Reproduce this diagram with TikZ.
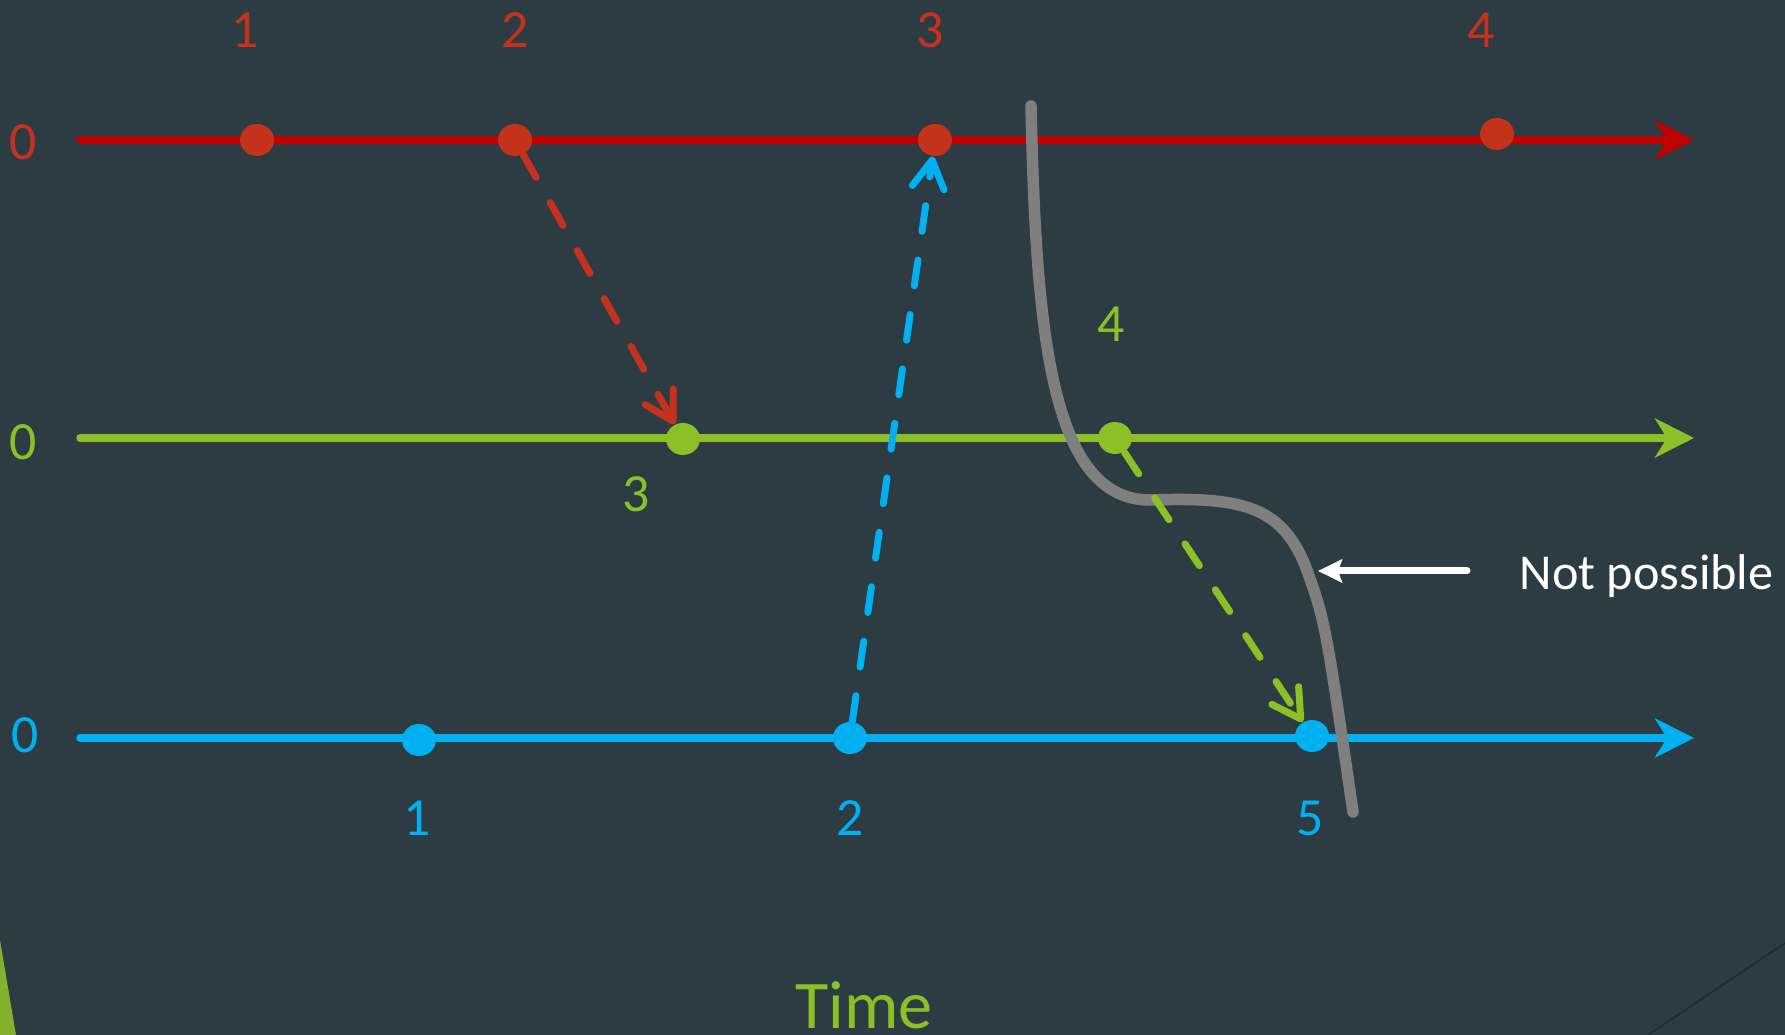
\documentclass[tikz,border=0pt]{standalone}
\usepackage{fontspec}
\setmainfont{Carlito}
\usepackage{xcolor,tikz}
\usetikzlibrary{arrows.meta,shapes.geometric}
\definecolor{slate}{HTML}{2D3C43}
\definecolor{redline}{HTML}{C00000}
\definecolor{redev}{HTML}{C4321C}
\definecolor{grnev}{HTML}{8DC026}
\definecolor{leaf}{HTML}{84B12C}
\definecolor{bluev}{HTML}{00B0F0}
\definecolor{wallgray}{HTML}{7F7F7F}
\definecolor{edgeline}{HTML}{1E2A2F}
\tikzset{
  axis/.style={line width=0.75mm,line cap=round,-{Stealth[length=3.9mm,width=3.9mm,inset=1.2mm]}},
  evdot/.style={ellipse,inner sep=0pt,minimum width=3.4mm,minimum height=3.2mm},
  msg/.style={line width=0.7mm,line cap=round,dash pattern=on 2.6mm off 2.9mm,
    -{Straight Barb[length=2.8mm,width=3.2mm,round]}},
  tick/.style={font=\fontsize{15.3}{18}\selectfont,inner sep=0pt},
}

\begin{document}
\begin{tikzpicture}[x=1mm,y=-1mm]
\fill[slate] (0,0) rectangle (178.5,103.5);
\useasboundingbox (0,0) rectangle (178.5,103.5);
% corner decoration
\fill[leaf] (0,94) -- (1.6,103.5) -- (0,103.5) -- cycle;
\draw[edgeline,line width=0.15mm] (164.8,103.5) -- (178.5,94.3);
% process lines
\coordinate (r0) at (8,14.0);   \coordinate (rE) at (169.4,14.0);
\coordinate (g0) at (8,43.8);   \coordinate (gE) at (169.4,43.8);
\coordinate (b0) at (8,73.8);   \coordinate (bE) at (169.4,73.8);
\draw[axis,redline] (r0) -- (rE);
\draw[axis,grnev] (g0) -- (gE);
\draw[axis,bluev] (b0) -- (bE);
\node[tick,text=redev] (rz) at (2.3,14.2){0};
\node[tick,text=grnev] (gz) at (2.3,44.2){0};
\node[tick,text=bluev] (bz) at (2.5,73.5){0};
% cut
\draw[wallgray,line width=1.15mm,line cap=round] (103.1,10.6) .. controls (103.6,33) and (105,50) .. (115,50)
  .. controls (124,49.7) and (128,50.5) .. (130.5,56.5) .. controls (132.5,62) .. (135.3,81.2);
% events
\foreach \n/\x/\y in {1/25.7/14.0,2/51.5/14.0,3/93.5/14.0,4/149.7/13.4}
  \node[evdot,fill=redev] (r\n) at (\x,\y){};
\foreach \n/\x/\y in {3/68.3/43.9,4/111.5/43.8}
  \node[evdot,fill=grnev] (g\n) at (\x,\y){};
\foreach \n/\x/\y in {1/41.9/74.0,2/85.0/73.8,5/131.2/73.6}
  \node[evdot,fill=bluev] (b\n) at (\x,\y){};
\foreach \n/\x in {1/24.5,2/51.5,3/93.0,4/148.1}
  \node[tick,text=redev] (rl\n) at (\x,3.05){\n};
\node[tick,text=grnev] (gl4) at (111.1,32.4){4};
\node[tick,text=grnev] (gl3) at (63.6,49.4){3};
\foreach \n/\x in {1/41.7,2/85.0,5/131.0}
  \node[tick,text=bluev] (bl\n) at (\x,81.8){\n};
% messages
\draw[msg,redev] (r2) -- (g3);
\draw[msg,bluev] (b2) -- (r3);
\draw[msg,grnev] (g4) -- (b5);
% note
\node[anchor=base west,inner sep=0pt,text=white,font=\fontsize{14.3}{18}\selectfont] (np) at (151.9,59.0){Not possible};
\coordinate (nptail) at (146.7,57.1);
\coordinate (nptip) at (131.8,57.1);
\draw[white,line width=0.7mm,line cap=round,-{Stealth[length=2.4mm,width=2.3mm,inset=0.4mm]}] (nptail) -- (nptip);
\node[anchor=base,text=grnev,font=\fontsize{19.4}{23}\selectfont] (time) at (86.4,102.8){Time};
\end{tikzpicture}
\end{document}
